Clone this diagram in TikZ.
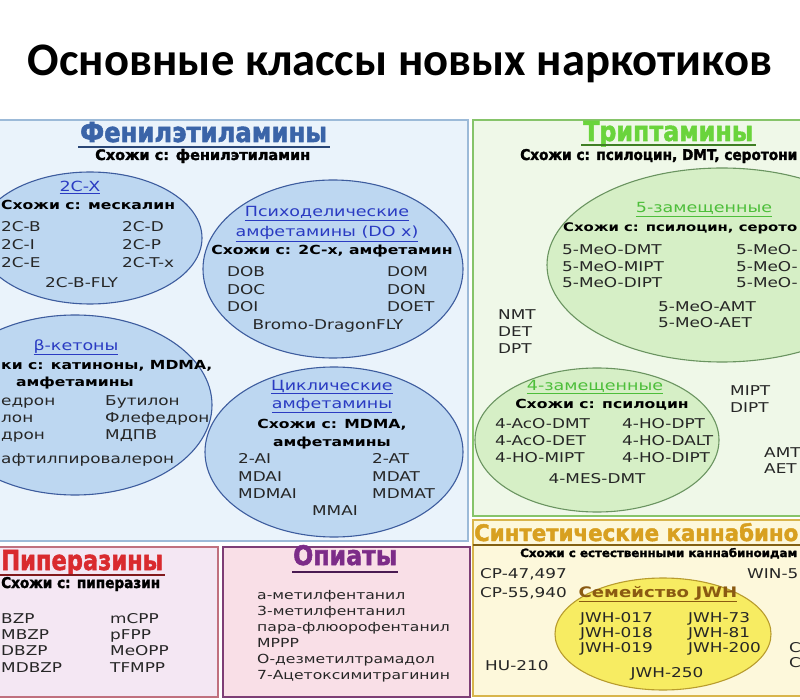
\documentclass[tikz,border=0pt]{standalone}
\usepackage{fontspec}
\usepackage{graphicx}
\usetikzlibrary{shapes.geometric}
\setmainfont{DejaVu Sans}
\newfontfamily\gf[FakeStretch=1.25]{DejaVu Sans}
\newfontfamily\tf{Carlito}
\newfontfamily\hf[BoldFeatures={FakeBold=2}]{DejaVu Sans}
\newcommand\hd[3]{\resizebox{#1pt}{#2pt}{\hf\bfseries #3}}
\definecolor{bpanel}{HTML}{EAF3FB}
\definecolor{bpanelb}{HTML}{9CBAD8}
\definecolor{bell}{HTML}{BDD7F1}
\definecolor{bellb}{HTML}{3D5C9E}
\definecolor{bhead}{HTML}{3A64A8}
\definecolor{bsub}{HTML}{2A3BC2}
\definecolor{gpanel}{HTML}{EFF8E8}
\definecolor{gpanelb}{HTML}{86C46A}
\definecolor{gell}{HTML}{D6EFC6}
\definecolor{gellb}{HTML}{6A9460}
\definecolor{ghead}{HTML}{6AD43C}
\definecolor{gsub}{HTML}{4DBE3A}
\definecolor{ypanel}{HTML}{FDF8DB}
\definecolor{ypanelb}{HTML}{D8B54C}
\definecolor{yell}{HTML}{F7EC62}
\definecolor{yellb}{HTML}{B89C2E}
\definecolor{yhead}{HTML}{D8A020}
\definecolor{ysub}{HTML}{8A5A12}
\definecolor{ppanel}{HTML}{F4E7F3}
\definecolor{ppanelb}{HTML}{C0707E}
\definecolor{phead}{HTML}{D92A2E}
\definecolor{opanel}{HTML}{F9DFE7}
\definecolor{opanelb}{HTML}{7E3E76}
\definecolor{ohead}{HTML}{7C2C88}
\definecolor{itemc}{HTML}{262626}
\begin{document}
\begin{tikzpicture}[x=1pt,y=-1pt,
  it/.style={inner sep=0pt, anchor=base west, font=\gf\fontsize{13.5}{16}\selectfont, text=itemc},
  itc/.style={it, anchor=base},
  opi/.style={it, font=\gf\fontsize{12.5}{14}\selectfont},
  sim/.style={inner sep=0pt, anchor=base, font=\gf\bfseries\fontsize{12.5}{15}\selectfont, text=black},
  sub/.style={inner sep=0pt, anchor=base, font=\gf\fontsize{14}{16}\selectfont},
  hdn/.style={inner sep=0pt, anchor=base west},
  ell/.style={ellipse, inner sep=0pt, line width=1.1pt},
  panel/.style={line width=1.5pt},
  uline/.style={line width=1.3pt}]
\useasboundingbox (0,0) rectangle (800,700);
\fill[white] (0,0) rectangle (800,700);
\clip (0,0) rectangle (800,700);

% title
\node[inner sep=0pt, anchor=base] (title) at (400,76)
  {\resizebox{744pt}{!}{\tf\bfseries Основные классы новых наркотиков}};

% panels
\draw[panel, fill=bpanel, draw=bpanelb] (-5,120) rectangle (468,541);
\draw[panel, fill=gpanel, draw=gpanelb] (473,120) rectangle (810,516);
\draw[panel, fill=ypanel, draw=ypanelb] (473,520) rectangle (810,696);
\draw[panel, fill=ppanel, draw=ppanelb] (-5,547) rectangle (218,697);
\draw[panel, fill=opanel, draw=opanelb] (223,547) rectangle (470,697);

% ===== Phenethylamines
\node[hdn, text=bhead] (hphen) at (80,142) {\hd{247}{20}{Фенилэтиламины}};
\draw[uline, bhead!70!black] (78,147) -- (330,147);
\node[hdn] (sphen) at (95,160) {\hd{215}{11}{Схожи с: фенилэтиламин}};

\node[ell, fill=bell, draw=bellb, minimum width=224pt, minimum height=132pt] (e1) at (90,238) {};
\node[sub, text=bsub] (e1a) at (80,192) {\underline{2C-X}};
\node[sim, anchor=base west] (e1b) at (1,210) {Схожи с: мескалин};
\node[it] (e1c) at (1,232) {2C-B};
\node[it] (e1d) at (1,250) {2C-I};
\node[it] (e1e) at (1,268) {2C-E};
\node[it] (e1f) at (122,232) {2C-D};
\node[it] (e1g) at (122,250) {2C-P};
\node[it] (e1h) at (122,268) {2C-T-x};
\node[it] (e1i) at (45,288) {2C-B-FLY};

\node[ell, fill=bell, draw=bellb, minimum width=260pt, minimum height=178pt] (e2) at (333,269) {};
\node[sub, text=bsub] (e2a) at (327,217) {\underline{Психоделические}};
\node[sub, text=bsub] (e2b) at (327,237) {\underline{амфетамины (DO x)}};
\node[sim] (e2c) at (332,255) {Схожи с: 2C-х, амфетамин};
\node[it] (e2d) at (227,277) {DOB};
\node[it] (e2e) at (227,295) {DOC};
\node[it] (e2f) at (227,312) {DOI};
\node[it] (e2g) at (387,277) {DOM};
\node[it] (e2h) at (387,295) {DON};
\node[it] (e2i) at (387,312) {DOET};
\node[itc] (e2j) at (328,330) {Bromo-DragonFLY};

\node[ell, fill=bell, draw=bellb, minimum width=274pt, minimum height=180pt] (e3) at (75,405) {};
\node[sub, text=bsub] (e3a) at (76,350) {\underline{β-кетоны}};
\node[sim, anchor=base west] (e3b) at (1,369) {ки с: катиноны, MDMA,};
\node[sim] (e3c) at (75,386) {амфетамины};
\node[it] (e3d) at (1,405) {едрон};
\node[it] (e3e) at (1,422) {лон};
\node[it] (e3f) at (1,439) {дрон};
\node[it] (e3g) at (105,405) {Бутилон};
\node[it] (e3h) at (105,422) {Флефедрон};
\node[it] (e3i) at (105,439) {МДПВ};
\node[it] (e3j) at (1,463) {афтилпировалерон};

\node[ell, fill=bell, draw=bellb, minimum width=258pt, minimum height=170pt] (e4) at (334,452) {};
\node[sub, text=bsub] (e4a) at (332,390) {\underline{Циклические}};
\node[sub, text=bsub] (e4b) at (332,408) {\underline{амфетамины}};
\node[sim] (e4c) at (332,428) {Схожи с: MDMA,};
\node[sim] (e4d) at (332,446) {амфетамины};
\node[it] (e4e) at (238,463) {2-AI};
\node[it] (e4f) at (238,481) {MDAI};
\node[it] (e4g) at (238,498) {MDMAI};
\node[it] (e4h) at (372,463) {2-AT};
\node[it] (e4i) at (372,481) {MDAT};
\node[it] (e4j) at (372,498) {MDMAT};
\node[itc] (e4k) at (335,515) {MMAI};

% ===== Tryptamines
\node[hdn, text=ghead] (htry) at (583,141) {\hd{170}{20}{Триптамины}};
\draw[uline, ghead!60!black] (581,145) -- (756,145);
\node[hdn] (stry) at (520,160) {\hd{277}{11}{Схожи с: псилоцин, DMT, серотони}};

\node[ell, fill=gell, draw=gellb, minimum width=350pt, minimum height=194pt] (e5) at (722,265) {};
\node[sub, text=gsub] (e5a) at (704,213) {\underline{5-замещенные}};
\node[sim, anchor=base west] (e5b) at (563,232) {\resizebox{234pt}{!}{Схожи с: псилоцин, серото}};
\node[it] (e5c) at (562,255) {5-MeO-DMT};
\node[it] (e5d) at (562,272) {5-MeO-MIPT};
\node[it] (e5e) at (562,288) {5-MeO-DIPT};
\node[it] (e5f) at (736,255) {5-MeO-};
\node[it] (e5g) at (736,272) {5-MeO-};
\node[it] (e5h) at (736,288) {5-MeO-};
\node[it] (e5i) at (658,312) {5-MeO-AMT};
\node[it] (e5j) at (658,328) {5-MeO-AET};

\node[it] (t1) at (498,320) {NMT};
\node[it] (t2) at (498,337) {DET};
\node[it] (t3) at (498,353) {DPT};

\node[ell, fill=gell, draw=gellb, minimum width=244pt, minimum height=144pt] (e6) at (597,440) {};
\node[sub, text=gsub] (e6a) at (595,390) {\underline{4-замещенные}};
\node[sim] (e6b) at (602,408) {Схожи с: псилоцин};
\node[it] (e6c) at (495,428) {4-AcO-DMT};
\node[it] (e6d) at (495,445) {4-AcO-DET};
\node[it] (e6e) at (495,462) {4-HO-MIPT};
\node[it] (e6f) at (622,428) {4-HO-DPT};
\node[it] (e6g) at (622,445) {4-HO-DALT};
\node[it] (e6h) at (622,462) {4-HO-DIPT};
\node[itc] (e6i) at (597,483) {4-MES-DMT};

\node[it] (t4) at (730,395) {MIPT};
\node[it] (t5) at (730,412) {DIPT};
\node[it] (t6) at (764,457) {AMT};
\node[it] (t7) at (764,473) {AET};

% ===== Synthetic cannabinoids
\node[hdn, text=yhead] (hcan) at (474,541) {\hd{324}{18}{Синтетические каннабино}};
\draw[uline, yhead!60!black] (473,545) -- (810,545);
\node[hdn] (scan) at (520,557) {\hd{277}{9}{Схожи с естественными каннабиноидам}};

\node[it] (c1) at (480,578) {CP-47,497};
\node[it] (c2) at (480,597) {CP-55,940};
\node[it] (c3) at (747,578) {WIN-5};
\node[it] (c4) at (485,670) {HU-210};
\node[it] (c5) at (789,652) {C};
\node[it] (c6) at (789,667) {C};

\node[ell, fill=yell, draw=yellb, minimum width=216pt, minimum height=112pt] (e7) at (663,634) {};
\node[sub, text=ysub, font=\gf\bfseries\fontsize{14.5}{16}\selectfont] (e7a) at (658,597) {\underline{Семейство JWH}};
\node[it] (e7b) at (580,622) {JWH-017};
\node[it] (e7c) at (580,637) {JWH-018};
\node[it] (e7d) at (580,652) {JWH-019};
\node[it] (e7e) at (688,622) {JWH-73};
\node[it] (e7f) at (688,637) {JWH-81};
\node[it] (e7g) at (688,652) {JWH-200};
\node[itc] (e7h) at (667,677) {JWH-250};

% ===== Piperazines
\node[hdn, text=phead] (hpip) at (1,570) {\hd{162}{20}{Пиперазины}};
\draw[uline, phead!60!black] (-5,575) -- (165,575);
\node[hdn] (spip) at (1,588) {\hd{159}{11}{Схожи с: пиперазин}};
\node[it] (p1) at (1,623) {BZP};
\node[it] (p2) at (1,639) {MBZP};
\node[it] (p3) at (1,655) {DBZP};
\node[it] (p4) at (1,672) {MDBZP};
\node[it] (p5) at (110,623) {mCPP};
\node[it] (p6) at (110,639) {pFPP};
\node[it] (p7) at (110,655) {MeOPP};
\node[it] (p8) at (110,672) {TFMPP};

% ===== Opiates
\node[hdn, text=ohead] (hopi) at (293,565) {\hd{104}{20}{Опиаты}};
\draw[uline, ohead!60!black] (292,572) -- (398,572);
\node[opi] (o1) at (257,599) {а-метилфентанил};
\node[opi] (o2) at (257,615) {3-метилфентанил};
\node[opi] (o3) at (257,631) {пара-флюорофентанил};
\node[opi] (o4) at (257,647) {MPPP};
\node[opi] (o5) at (257,663) {О-дезметилтрамадол};
\node[opi] (o6) at (257,679) {7-Ацетоксимитрагинин};
\end{tikzpicture}
\end{document}
